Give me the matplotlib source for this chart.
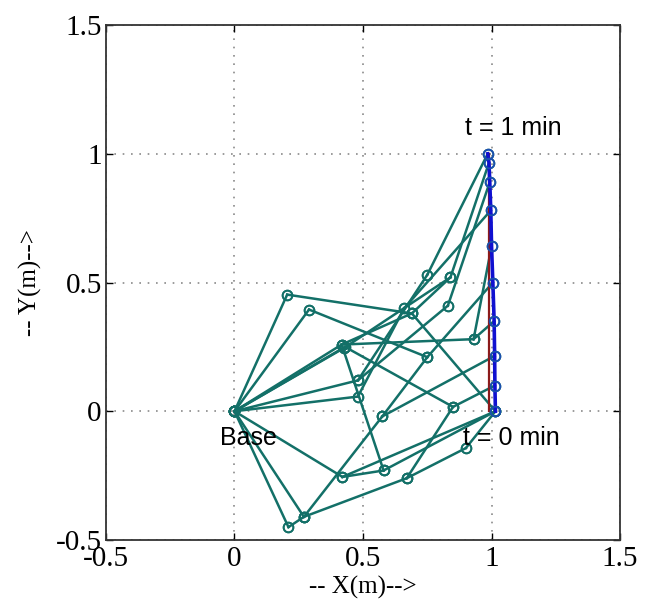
import matplotlib
matplotlib.use("Agg")
import matplotlib.pyplot as plt

# Relay / base node positions (m)
node_names = ["Base", "N1", "N2", "N3", "N3b", "N3c", "N4", "N5", "N6", "N7", "N8",
              "M1", "M2", "M3", "M4", "M5", "M6", "M7", "M8", "M9", "M10", "M11", "M12"]
node_x = [0.0, 0.205, 0.29, 0.417, 0.425, 0.43, 0.48, 0.48, 0.42, 0.27, 0.21,
          0.66, 0.69, 0.75, 0.84, 0.83, 0.75, 0.93, 0.85, 0.90, 0.67, 0.58, 0.575]
node_y = [0.0, 0.453, 0.395, 0.259, 0.245, 0.25, 0.12, 0.057, -0.255, -0.41, -0.45,
          0.40, 0.38, 0.53, 0.52, 0.41, 0.21, 0.28, 0.017, -0.143, -0.26, -0.23, -0.02]

# Target track: t = 0 ... 1 min
target_names = ["T0", "T1", "T2", "T3", "T4", "T5", "T6", "T7", "T8", "T9"]
target_x = [1.015, 1.013, 1.012, 1.01, 1.005, 1.0, 0.997, 0.993, 0.99, 0.985]
target_y = [0.0, 0.10, 0.215, 0.35, 0.50, 0.64, 0.78, 0.89, 0.965, 1.0]

# Reference path of the target
ref_x = [0.99, 0.99]
ref_y = [0.0, 1.0]

# Communication links
edges = [
    ("Base", "N1"), ("Base", "N2"), ("Base", "N3"), ("Base", "N3b"), ("Base", "N3c"),
    ("Base", "N4"), ("Base", "N5"), ("Base", "N6"), ("Base", "N7"), ("Base", "N8"),
    ("N1", "M2"), ("N2", "M6"), ("N4", "M3"), ("N3b", "M4"), ("N3", "M7"),
    ("N3", "M11"), ("N3c", "M8"), ("N4", "M5"), ("N5", "M1"), ("N3", "M2"),
    ("M2", "M4"), ("N6", "M11"), ("M11", "T0"), ("N7", "M10"), ("M10", "M9"),
    ("M10", "M8"), ("M9", "T0"), ("N8", "N7"), ("N7", "M12"), ("M12", "M6"),
    ("M12", "T2"), ("M8", "T1"), ("M2", "T0"), ("M6", "T4"), ("M7", "T3"),
    ("M7", "T5"), ("M1", "T6"), ("M5", "T7"), ("M4", "T8"), ("M3", "T9"),
    ("N6", "T0"),
]

pos = {n: (x, y) for n, x, y in zip(node_names, node_x, node_y)}
pos.update({n: (x, y) for n, x, y in zip(target_names, target_x, target_y)})

teal = "#137068"
serif = ["Liberation Serif", "DejaVu Serif"]
sans = ["Liberation Sans", "DejaVu Sans"]

fig = plt.figure(figsize=(6.5, 6.09), dpi=100)
ax = fig.add_axes([0.163, 0.1133, 0.791, 0.8456])

for a, b in edges:
    xa, ya = pos[a]
    xb, yb = pos[b]
    ax.plot([xa, xb], [ya, yb], color=teal, lw=1.8, marker="o", ms=7,
            mfc="none", mec=teal, mew=1.3, zorder=2)

ax.plot(ref_x, ref_y, color="#8b1a1a", lw=1.6, zorder=3)
ax.plot(target_x, target_y, color="#1010d0", lw=2.6, marker="o", ms=7,
        mfc="none", mec="#1a4fb0", mew=1.3, zorder=4)

ax.text(0.895, 1.10, "t = 1 min", family=sans, fontsize=18, va="center", ha="left")
ax.text(0.89, -0.103, "t = 0 min", family=sans, fontsize=18, va="center", ha="left")
ax.text(-0.055, -0.103, "Base", family=sans, fontsize=18, va="center", ha="left")

ax.set_xlim(-0.5, 1.5)
ax.set_ylim(-0.5, 1.5)
ticks = [-0.5, 0, 0.5, 1, 1.5]
tick_labels = ["-0.5", "0", "0.5", "1", "1.5"]
ax.set_xticks(ticks)
ax.set_xticklabels(tick_labels, family=serif, fontsize=21)
ax.set_yticks(ticks)
ax.set_yticklabels(tick_labels, family=serif, fontsize=21)
ax.tick_params(direction="in", length=5, width=1, top=True, right=True)
ax.tick_params(axis="x", pad=4)
ax.tick_params(axis="y", pad=3)
ax.grid(True, linestyle=(0, (1, 4)), color="#8a8a8a", lw=1.2)
for s in ax.spines.values():
    s.set_linewidth(1.3)
    s.set_color("#333333")

ax.set_xlabel("-- X(m)-->", family=serif, fontsize=18, labelpad=3)
ax.set_ylabel("-- Y(m)-->", family=serif, fontsize=18, labelpad=10)

fig.savefig("out.png", dpi=100)
